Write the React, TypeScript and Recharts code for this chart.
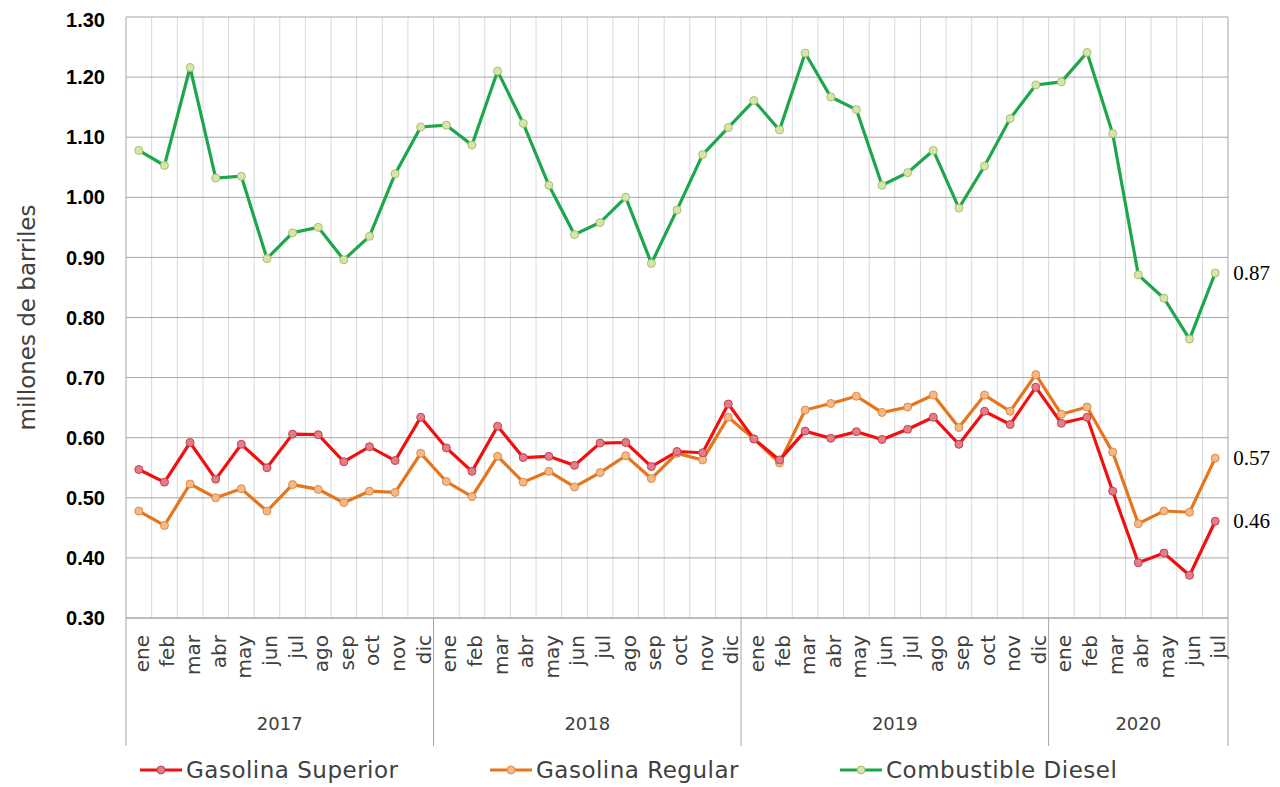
import React from "react";
import {
  LineChart,
  Line,
  XAxis,
  YAxis,
  CartesianGrid,
  Legend,
} from "recharts";

const meses = [
  "ene", "feb", "mar", "abr", "may", "jun", "jul", "ago", "sep", "oct", "nov", "dic",
  "ene", "feb", "mar", "abr", "may", "jun", "jul", "ago", "sep", "oct", "nov", "dic",
  "ene", "feb", "mar", "abr", "may", "jun", "jul", "ago", "sep", "oct", "nov", "dic",
  "ene", "feb", "mar", "abr", "may", "jun", "jul",
];

const anios = [
  ...Array(12).fill("2017"),
  ...Array(12).fill("2018"),
  ...Array(12).fill("2019"),
  ...Array(7).fill("2020"),
];

const superior = [
  0.547, 0.526, 0.592, 0.531, 0.589, 0.55, 0.606, 0.605, 0.56, 0.585, 0.562, 0.634,
  0.583, 0.544, 0.619, 0.567, 0.569, 0.554, 0.591, 0.592, 0.552, 0.577, 0.575, 0.656,
  0.598, 0.563, 0.611, 0.599, 0.61, 0.597, 0.614, 0.634, 0.589, 0.644, 0.622, 0.684,
  0.624, 0.634, 0.511, 0.392, 0.408, 0.371, 0.461,
];

const regular = [
  0.478, 0.454, 0.523, 0.5, 0.515, 0.478, 0.522, 0.514, 0.492, 0.511, 0.509, 0.574,
  0.527, 0.502, 0.569, 0.526, 0.544, 0.518, 0.542, 0.57, 0.532, 0.574, 0.563, 0.634,
  0.598, 0.558, 0.646, 0.657, 0.669, 0.642, 0.651, 0.671, 0.617, 0.671, 0.644, 0.705,
  0.639, 0.651, 0.576, 0.457, 0.478, 0.476, 0.566,
];

const diesel = [
  1.078, 1.053, 1.216, 1.032, 1.035, 0.898, 0.941, 0.95, 0.896, 0.935, 1.039, 1.117,
  1.12, 1.087, 1.21, 1.123, 1.02, 0.938, 0.958, 1.0, 0.89, 0.979, 1.071, 1.116,
  1.161, 1.112, 1.24, 1.167, 1.146, 1.02, 1.041, 1.078, 0.982, 1.052, 1.131, 1.187,
  1.192, 1.241, 1.106, 0.871, 0.832, 0.764, 0.874,
];

const yTicks = [0.3, 0.4, 0.5, 0.6, 0.7, 0.8, 0.9, 1.0, 1.1, 1.2, 1.3];

const series = [
  { key: "diesel", name: "Combustible Diesel", color: "#1ea64c", dot: "#d7e6a6", dotStroke: "#a6bf76" },
  { key: "regular", name: "Gasolina Regular", color: "#e5761c", dot: "#f8b883", dotStroke: "#d98a4c" },
  { key: "superior", name: "Gasolina Superior", color: "#f01010", dot: "#e37e88", dotStroke: "#c4404e" },
];

const data = meses.map((mes, i) => ({
  mes,
  anio: anios[i],
  superior: superior[i],
  regular: regular[i],
  diesel: diesel[i],
}));

const W = 1264;
const H = 779;
const MARGIN = { top: 9, right: 44, left: 0, bottom: 0 };
const Y_WIDTH = 118;
const PLOT_W = W - MARGIN.left - MARGIN.right - Y_WIDTH;
const BAND = PLOT_W / meses.length;

const FONT = "'DejaVu Sans', sans-serif";
const last = meses.length - 1;

const MonthTick = (props: any) => {
  const { x, y, payload } = props;
  const i = payload.index;
  const anio = anios[i];
  const first = anios.indexOf(anio);
  const count = anios.filter((a) => a === anio).length;
  const tx = x + 3;
  const ty = y + 17;
  return (
    <g>
      <text
        x={tx}
        y={ty}
        transform={`rotate(-90, ${tx}, ${ty})`}
        textAnchor="end"
        dominantBaseline="central"
        fontFamily={FONT}
        fontSize={20}
        fill="#404040"
      >
        {meses[i]}
      </text>
      {i === first && (
        <>
          <line x1={x - BAND / 2} x2={x - BAND / 2} y1={y} y2={y + 128} stroke="#a6a6a6" />
          <text
            x={x + ((count - 1) / 2) * BAND}
            y={y + 105}
            textAnchor="middle"
            dominantBaseline="central"
            fontFamily={FONT}
            fontSize={18}
            fill="#404040"
          >
            {anio}
          </text>
        </>
      )}
      {i === last && (
        <line x1={x + BAND / 2} x2={x + BAND / 2} y1={y} y2={y + 128} stroke="#a6a6a6" />
      )}
    </g>
  );
};

const lastLabel = (props: any) => {
  const { x, y, value, index } = props;
  if (index !== last) return null;
  return (
    <text
      x={x + 18}
      y={y}
      dominantBaseline="central"
      fontFamily="'Liberation Serif', serif"
      fontSize={21}
      fill="#000"
    >
      {Number(value).toFixed(2)}
    </text>
  );
};

const LegendContent = () => {
  const items = [series[2], series[1], series[0]];
  return (
    <div style={{ display: "flex", paddingLeft: 132, height: 34, alignItems: "center" }}>
      {items.map((s) => (
        <div key={s.key} style={{ width: 350, display: "flex", alignItems: "center" }}>
          <svg width={44} height={14}>
            <line x1={0} x2={42} y1={7} y2={7} stroke={s.color} strokeWidth={3} />
            <circle cx={21} cy={7} r={4} fill={s.dot} stroke={s.dotStroke} />
          </svg>
          <span
            style={{
              fontFamily: FONT,
              fontSize: 23,
              letterSpacing: 0.5,
              color: "#404040",
              marginLeft: 2,
            }}
          >
            {s.name}
          </span>
        </div>
      ))}
    </div>
  );
};

export default function App() {
  return (
    <div style={{ width: W, height: H }}>
      <LineChart width={W} height={H} data={data} margin={MARGIN}>
        <CartesianGrid
          vertical
          horizontal={false}
          stroke="#d9d9d9"
          verticalCoordinatesGenerator={({ offset }: any) =>
            meses.slice(1).map((_, i) => offset.left + ((i + 1) * offset.width) / meses.length)
          }
        />
        <CartesianGrid
          vertical
          horizontal
          stroke="#a6a6a6"
          verticalCoordinatesGenerator={({ offset }: any) => [
            offset.left,
            offset.left + offset.width,
          ]}
        />
        <XAxis
          dataKey="mes"
          padding={{ left: BAND / 2, right: BAND / 2 }}
          interval={0}
          height={135}
          tickSize={0}
          tickMargin={0}
          tickLine={false}
          axisLine={{ stroke: "#a6a6a6" }}
          tick={<MonthTick />}
        />
        <YAxis
          width={Y_WIDTH}
          domain={[0.3, 1.3]}
          ticks={yTicks}
          tickFormatter={(v: number) => v.toFixed(2)}
          axisLine={false}
          tickLine={false}
          tickSize={0}
          tickMargin={21}
          tick={{ fill: "#000", fontSize: 20, fontWeight: "bold", fontFamily: "'Liberation Sans', Arial, sans-serif" }}
          label={{
            value: "millones de barriles",
            angle: -90,
            position: "insideLeft",
            offset: 19,
            style: { textAnchor: "middle", fontFamily: FONT, fontSize: 23, fill: "#404040" },
          }}
        />
        <Legend verticalAlign="bottom" height={34} content={<LegendContent />} />
        {series.map((s) => (
          <Line
            key={s.key}
            type="linear"
            dataKey={s.key}
            name={s.name}
            stroke={s.color}
            strokeWidth={3.2}
            dot={{ r: 4, fill: s.dot, stroke: s.dotStroke, strokeWidth: 1 }}
            activeDot={false}
            label={lastLabel}
            isAnimationActive={false}
          />
        ))}
      </LineChart>
    </div>
  );
}
